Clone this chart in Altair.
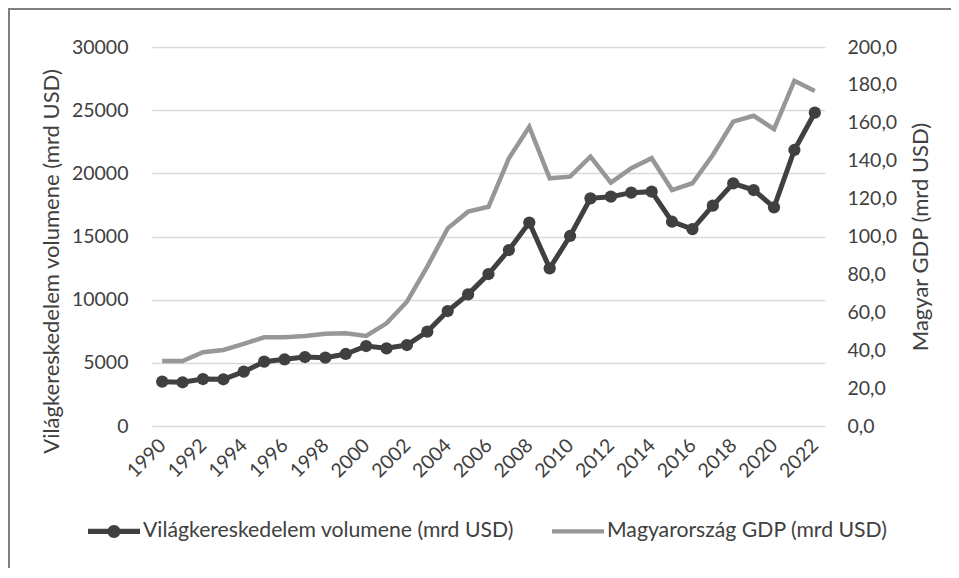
import altair as alt
import pandas as pd

years = list(range(1990, 2023))
trade = [3510, 3460, 3720, 3700, 4300, 5090, 5280, 5460, 5410, 5700,
         6330, 6150, 6410, 7470, 9100, 10420, 12030, 13930, 16100, 12480,
         15040, 18020, 18150, 18470, 18550, 16170, 15590, 17440, 19210, 18680,
         17310, 21850, 24800]
gdp = [34.3, 34.3, 38.9, 40.1, 43.3, 46.8, 46.8, 47.5, 48.7, 48.9,
       47.5, 54.2, 65.6, 84.1, 104.3, 113.1, 115.7, 141.3, 157.9, 130.7,
       131.6, 142.1, 128.4, 136.0, 141.3, 124.5, 128.1, 143.0, 160.6, 163.7,
       156.7, 182.2, 176.8]
series_names = ["Világkereskedelem volumene (mrd USD)", "Magyarország GDP (mrd USD)"]
left_title = "Világkereskedelem volumene (mrd USD)"
right_title = "Magyar GDP (mrd USD)"
left_ticks = [0, 5000, 10000, 15000, 20000, 25000, 30000]
right_ticks = [0, 20, 40, 60, 80, 100, 120, 140, 160, 180, 200]
year_labels = list(range(1990, 2023, 2))

df = pd.DataFrame({"year": years, "trade": trade, "gdp": gdp})
one = pd.DataFrame({"a": [0]})

FONT = "Lato"
DARK = "#404040"
GRAY = "#979797"
TEXT = "#404040"
GRID = "#d9d9d9"

path_trade = ("M-1,-0.1L1,-0.1L1,0.1L-1,0.1Z "
              "M0.25,0A0.25,0.25 0 1 1 -0.25,0A0.25,0.25 0 1 1 0.25,0Z")
path_gdp = "M-1,-0.085L1,-0.085L1,0.085L-1,0.085Z"

x_enc = alt.X(
    "year:O",
    scale=alt.Scale(type="point", padding=0.5),
    axis=alt.Axis(values=year_labels, labelAngle=315, labelAlign="right",
                  labelBaseline="middle", labelPadding=16, domain=False,
                  ticks=False, grid=False, title=None),
)

y_left = alt.Y(
    "trade:Q",
    scale=alt.Scale(domain=[0, 30000]),
    axis=alt.Axis(values=left_ticks, format="d", title=left_title, grid=True,
                  gridColor=GRID, gridWidth=1.5, domain=False, ticks=False,
                  labelPadding=24, titlePadding=8, titleY=214),
)

y_right = alt.Y(
    "gdp:Q",
    scale=alt.Scale(domain=[0, 200]),
    axis=alt.Axis(orient="right", values=right_ticks,
                  labelExpr="replace(format(datum.value, '.1f'), '.', ',')",
                  title=right_title, titleAngle=270, titleBaseline="top",
                  grid=False, domain=False,
                  ticks=False, labelPadding=22, titlePadding=14),
)

base = alt.Chart(df)

trade_line = base.mark_line(color=DARK, strokeWidth=5).encode(x=x_enc, y=y_left)
trade_pts = base.mark_point(filled=True, size=150, opacity=1, color=DARK).encode(x=x_enc, y=y_left)

leg = alt.Legend(title=None, orient="none", legendX=-64, legendY=458,
                 direction="horizontal", columns=2, symbolSize=2704,
                 symbolStrokeWidth=0, symbolOpacity=1, labelOffset=3,
                 columnPadding=38, labelLimit=0)

legend_layer = alt.Chart(one).transform_calculate(
    series="'" + series_names[0] + "'"
).transform_filter("false").mark_point(filled=True).encode(
    color=alt.Color("series:N", scale=alt.Scale(domain=series_names, range=[DARK, GRAY]), legend=leg),
    shape=alt.Shape("series:N", scale=alt.Scale(domain=series_names, range=[path_trade, path_gdp]), legend=leg),
)

frame_top = alt.Chart(one).mark_rule(color="#7f7f7f", strokeWidth=2).encode(
    x=alt.value(-144), x2=alt.value(806), y=alt.value(-38)
)
frame_left = alt.Chart(one).mark_rule(color="#7f7f7f", strokeWidth=2).encode(
    x=alt.value(-143), y=alt.value(-38), y2=alt.value(521)
)

left = alt.layer(trade_line, trade_pts, legend_layer, frame_top, frame_left)

gdp_line = base.mark_line(color=GRAY, strokeWidth=4.5).encode(x=x_enc, y=y_right)

chart = alt.layer(left, gdp_line).resolve_scale(y="independent").properties(
    width=673, height=379,
    padding={"left": 144, "top": 39, "right": 126, "bottom": 142},
    autosize=alt.AutoSizeParams(type="none"),
).configure_view(stroke=None).configure_axis(
    labelFont=FONT, titleFont=FONT, labelColor=TEXT, titleColor=TEXT,
    labelFontSize=19.5, titleFontSize=22, titleFontWeight="normal",
).configure_legend(
    labelFont=FONT, labelFontSize=21.2, labelColor=TEXT,
)

chart.save("out.html", embed_options={"renderer": "svg", "actions": False})
